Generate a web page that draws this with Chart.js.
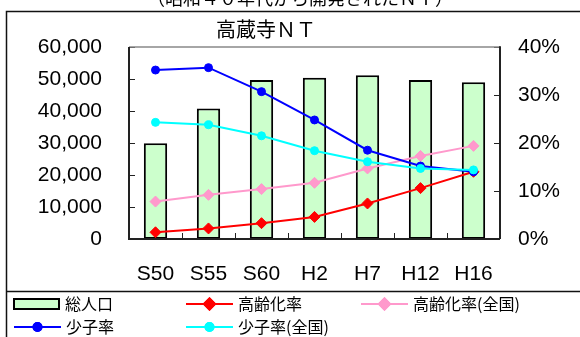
<!DOCTYPE html>
<html>
<head>
<meta charset="utf-8">
<script src="https://cdn.jsdelivr.net/npm/chart.js@4"></script>
<style>
  body { margin: 0; background: #fff; }
  #chart { display: block; }
</style>
</head>
<body>
<canvas id="chart" width="580" height="337"></canvas>
<script>
// values
const categories = ['S50', 'S55', 'S60', 'H2', 'H7', 'H12', 'H16'];
const population = [29900, 40800, 49700, 50400, 51200, 49700, 49000];   // 総人口
const agingRate = [1.4, 2.2, 3.3, 4.6, 7.4, 10.6, 14.0];                 // 高齢化率
const agingRateNational = [7.8, 9.2, 10.4, 11.7, 14.7, 17.3, 19.4];      // 高齢化率(全国)
const childRate = [35.2, 35.7, 30.7, 24.8, 18.5, 15.2, 14.0];            // 少子率
const childRateNational = [24.3, 23.8, 21.5, 18.4, 16.1, 14.7, 14.4];    // 少子率(全国)

const leftTicks = [0, 10000, 20000, 30000, 40000, 50000, 60000];
const rightTicks = [0, 10, 20, 30, 40];

const numFont = "'Liberation Sans', Arial, sans-serif";
const jpFont = "'Noto Sans CJK JP', sans-serif";

function lineSet(label, data, color, style, radius, order) {
  return {
    type: 'line',
    label: label,
    data: data,
    yAxisID: 'y2',
    borderColor: color,
    backgroundColor: color,
    borderWidth: 2,
    pointStyle: style,
    pointRadius: radius,
    pointBorderWidth: 1,
    pointBorderColor: color,
    tension: 0,
    order: order
  };
}

// frame, inward ticks, title, legend
const decor = {
  id: 'decor',
  beforeDatasetsDraw(chart) {
    const ctx = chart.ctx;
    const a = chart.chartArea;
    const sx = chart.scales.x, sy = chart.scales.y, sy2 = chart.scales.y2;
    ctx.save();
    ctx.strokeStyle = '#222';
    ctx.lineWidth = 1;
    ctx.beginPath();
    leftTicks.forEach(v => {
      const y = Math.round(sy.getPixelForValue(v)) + 0.5;
      ctx.moveTo(a.left, y); ctx.lineTo(a.left + 6, y);
    });
    rightTicks.forEach(v => {
      const y = Math.round(sy2.getPixelForValue(v)) + 0.5;
      ctx.moveTo(a.right, y); ctx.lineTo(a.right - 6, y);
    });
    for (let i = 0; i < categories.length - 1; i++) {
      const x = Math.round((sx.getPixelForValue(i) + sx.getPixelForValue(i + 1)) / 2) + 0.5;
      ctx.moveTo(x, a.bottom); ctx.lineTo(x, a.bottom - 6);
    }
    ctx.stroke();
    ctx.restore();
  },
  afterDraw(chart) {
    const ctx = chart.ctx;
    const a = chart.chartArea;
    ctx.save();

    // plot frame
    ctx.strokeStyle = '#888';
    ctx.lineWidth = 1.5;
    ctx.beginPath();
    ctx.moveTo(a.left, a.top); ctx.lineTo(a.right, a.top);
    ctx.stroke();
    ctx.strokeStyle = '#222';
    ctx.lineWidth = 2;
    ctx.beginPath();
    ctx.moveTo(a.left, a.top); ctx.lineTo(a.left, a.bottom); ctx.lineTo(a.right, a.bottom);
    ctx.moveTo(a.right, a.top - 0.75); ctx.lineTo(a.right, a.bottom);
    ctx.stroke();

    // outer chart border and legend separator
    ctx.strokeStyle = '#111';
    ctx.lineWidth = 1.5;
    ctx.beginPath();
    ctx.moveTo(580, 11.5); ctx.lineTo(6.5, 11.5); ctx.lineTo(6.5, 337);
    ctx.moveTo(6.5, 291.5); ctx.lineTo(580, 291.5);
    ctx.stroke();

    // cut-off subtitle above the frame
    ctx.fillStyle = '#000';
    ctx.textAlign = 'center';
    ctx.textBaseline = 'middle';
    ctx.font = '18px ' + jpFont;
    ctx.fillText('（昭和４０年代から開発されたＮＴ）', 300, -2);

    // title
    ctx.font = '20px ' + jpFont;
    ctx.fillText('高蔵寺ＮＴ', 266, 29);

    // legend
    const items = [
      { ds: 0, x: 14, y: 304 },
      { ds: 1, x: 186, y: 304 },
      { ds: 2, x: 361, y: 304 },
      { ds: 3, x: 14, y: 327 },
      { ds: 4, x: 186, y: 327 }
    ];
    ctx.font = '16px ' + jpFont;
    ctx.textAlign = 'left';
    items.forEach(it => {
      const ds = chart.data.datasets[it.ds];
      let tx;
      if (ds.type === 'bar') {
        ctx.fillStyle = ds.backgroundColor;
        ctx.fillRect(it.x, it.y - 5, 45, 10);
        ctx.strokeStyle = '#000';
        ctx.lineWidth = 2;
        ctx.strokeRect(it.x, it.y - 5, 45, 10);
        tx = it.x + 51;
      } else {
        ctx.strokeStyle = ds.borderColor;
        ctx.lineWidth = 2;
        ctx.beginPath();
        ctx.moveTo(it.x, it.y); ctx.lineTo(it.x + 47, it.y);
        ctx.stroke();
        Chart.helpers.drawPoint(ctx, {
          pointStyle: ds.pointStyle,
          radius: ds.pointRadius,
          rotation: 0,
          borderWidth: 1
        }, it.x + 23.5, it.y);
        ctx.fillStyle = ds.borderColor;
        ctx.fill();
        ctx.stroke();
        tx = it.x + 52;
      }
      ctx.fillStyle = '#000';
      ctx.fillText(ds.label, tx, it.y);
    });
    ctx.restore();
  }
};

new Chart(document.getElementById('chart'), {
  type: 'bar',
  data: {
    labels: categories,
    datasets: [
      {
        type: 'bar',
        label: '総人口',
        data: population,
        yAxisID: 'y',
        backgroundColor: '#ccffcc',
        borderColor: '#000',
        borderWidth: 2,
        borderSkipped: false,
        barPercentage: 0.44,
        categoryPercentage: 1,
        order: 10
      },
      lineSet('高齢化率', agingRate, '#ff0000', 'rectRot', 5.5, 4),
      lineSet('高齢化率(全国)', agingRateNational, '#ff99cc', 'rectRot', 5.5, 3),
      lineSet('少子率', childRate, '#0000ff', 'circle', 4, 2),
      lineSet('少子率(全国)', childRateNational, '#00ffff', 'circle', 4, 1)
    ]
  },
  options: {
    responsive: false,
    animation: false,
    layout: { padding: { top: 47, left: 0, right: 0, bottom: 0 } },
    plugins: {
      legend: { display: false },
      title: { display: false },
      tooltip: { enabled: false }
    },
    scales: {
      x: {
        offset: true,
        grid: { display: false, drawTicks: false },
        border: { display: false },
        ticks: { color: '#000', font: { family: numFont, size: 21 }, padding: 23, maxRotation: 0 },
        afterFit(scale) { scale.height = 98; }
      },
      y: {
        position: 'left',
        min: 0,
        max: 60000,
        afterBuildTicks(scale) { scale.ticks = leftTicks.map(v => ({ value: v })); },
        grid: { display: false, drawTicks: false },
        border: { display: false },
        ticks: {
          color: '#000',
          font: { family: numFont, size: 21 },
          padding: 27,
          callback: v => v.toLocaleString('en-US')
        },
        afterFit(scale) { scale.width = 129; }
      },
      y2: {
        position: 'right',
        min: 0,
        max: 40,
        afterBuildTicks(scale) { scale.ticks = rightTicks.map(v => ({ value: v })); },
        grid: { display: false, drawTicks: false },
        border: { display: false },
        ticks: {
          color: '#000',
          font: { family: numFont, size: 21 },
          padding: 18,
          callback: v => v + '%'
        },
        afterFit(scale) { scale.width = 80; }
      }
    }
  },
  plugins: [decor]
});
</script>
</body>
</html>
